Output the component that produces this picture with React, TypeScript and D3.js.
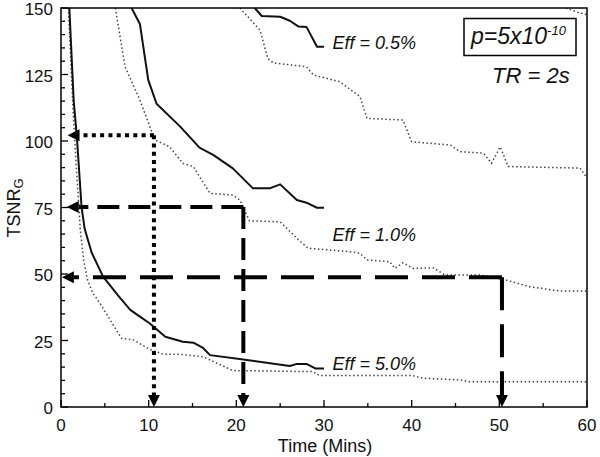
import React from "react";
import * as d3 from "d3";

type P = [number, number];

const solid5: P[] = [[0.95,150],[1.45,115],[1.8,102],[2.35,75],[2.7,67],[3.5,58],[4.8,49],[6.5,42],[7.9,36.5],[9,34],[10.1,31.5],[11.9,26.4],[13.9,24.5],[15.1,24.2],[16.2,22.2],[17,19.5],[20.8,17.9],[26.1,15.4],[26.9,16.2],[28,16.2],[29,14.5],[30,14.5]];
const dotted5: P[] = [[0.85,150],[1.4,110],[1.75,90],[2.05,75],[2.2,66.5],[2.6,55],[3.0,48],[3.6,43],[4.45,39],[5.6,32.7],[6.9,25.8],[8.25,25.2],[10.3,21.4],[11.7,19.8],[13.6,19.8],[16.2,18.9],[19.6,13.7],[28.7,13.3],[29.5,11.8],[40.1,11.8],[41.3,10.8],[45.5,10.2],[46.6,9.5],[60,9.5]];
const solid1: P[] = [[8.05,150],[9.0,144],[9.95,123],[10.9,114],[13.6,105.4],[15.8,97.5],[17.4,94.7],[19.6,89.7],[21.9,82.2],[23.8,82.2],[25,83.7],[26.9,77.8],[28,76.8],[29.2,74.9],[30,74.9]];
const dotted1: P[] = [[6.2,150],[7.3,128],[9.0,115.4],[10.7,100.4],[12.4,97.8],[13.9,91.6],[15.1,90.4],[15.8,86.6],[17,80.3],[19.6,79.7],[20.4,77.8],[21.5,70],[25,69.6],[27.1,62.8],[28.2,59.7],[32.9,58.4],[34.1,57.8],[34.9,55.3],[37.5,54.6],[38.1,52.1],[39,54.2],[40.2,52.1],[42.5,52.3],[43.8,49.6],[47.8,49.6],[50.8,47.7],[53.5,45.2],[56.9,43.6],[60,43.6]];
const solid05: P[] = [[22.1,150],[22.9,147],[25,146.7],[26.1,145.2],[27.1,143],[28,142.9],[29.2,135.4],[30,135.4]];
const dotted05: P[] = [[20.4,150],[22.7,141.7],[23.6,131],[24.2,129.4],[28,127.9],[28.8,124.8],[31.8,122.3],[34.1,116.7],[34.9,108.5],[39,107.9],[40,99.7],[44.4,98.5],[45.5,96],[48.2,95.4],[49.1,91.6],[50.1,97.8],[51,90.4],[59.2,89.8],[60,86.1]];
const dottedTop: P[] = [[57.6,150],[59,148.3],[60,147.5]];

const solidSeries = [solid5, solid1, solid05];
const dottedSeries = [dotted5, dotted1, dotted05, dottedTop];

const effLabels = ["Eff = 0.5%", "Eff = 1.0%", "Eff = 5.0%"];
const effLabelPos: P[] = [[30.5, 137], [30.5, 64.5], [30.5, 16.3]];

// guide arrows: corner (time, tsnr), left tip time
const arrowTime = [10.6, 20.8, 50.3];
const arrowTsnr = [102.2, 75.2, 48.8];
const arrowTip = [0.75, 0.65, 0.1];
const arrowDash = ["4 4.3", "22 9", "33 14"];

const xTicks = [0, 10, 20, 30, 40, 50, 60];
const xMinor = [5, 15, 25, 35, 45, 55];
const yTicks = [0, 25, 50, 75, 100, 125, 150];
const yMinor = d3.range(5, 150, 5).filter((v) => v % 25 !== 0);

const FONT = "'Liberation Sans', Arial, Helvetica, sans-serif";

export default function App() {
  const x = d3.scaleLinear().domain([0, 60]).range([61, 587]);
  const y = d3.scaleLinear().domain([0, 150]).range([407, 8]);
  const line = d3
    .line<P>()
    .x((d) => x(d[0]))
    .y((d) => y(d[1]));
  const head = 12;
  const hw = 6;

  return (
    <svg
      width={600}
      height={457}
      style={{ position: "absolute", left: 0, top: 0, background: "#fff" }}
      fontFamily={FONT}
    >
      <defs>
        <clipPath id="plot">
          <rect x={61} y={8} width={526} height={399} />
        </clipPath>
      </defs>
      <rect x={0} y={0} width={600} height={457} fill="#fff" />

      <g clipPath="url(#plot)" fill="none">
        {dottedSeries.map((s, i) => (
          <path key={"d" + i} d={line(s) || ""} stroke="#444" strokeWidth={1.5} strokeDasharray="1.5 2.5" />
        ))}
        {solidSeries.map((s, i) => (
          <path key={"s" + i} d={line(s) || ""} stroke="#111" strokeWidth={2} strokeLinejoin="round" />
        ))}
      </g>

      {arrowTime.map((t, i) => {
        const cx = x(t);
        const cy = y(arrowTsnr[i]);
        const tipX = x(arrowTip[i]);
        const tipY = y(0);
        return (
          <g key={"a" + i}>
            <path d={`M${cx},${cy}L${tipX + head},${cy}`} stroke="#000" strokeWidth={4} strokeDasharray={arrowDash[i]} fill="none" />
            <path d={`M${cx},${cy}L${cx},${tipY - head}`} stroke="#000" strokeWidth={4} strokeDasharray={arrowDash[i]} fill="none" />
            <path d={`M${tipX},${cy}L${tipX + head},${cy - hw}L${tipX + head},${cy + hw}Z`} fill="#000" />
            <path d={`M${cx},${tipY}L${cx - hw},${tipY - head}L${cx + hw},${tipY - head}Z`} fill="#000" />
          </g>
        );
      })}

      {/* axes frame */}
      <rect x={61} y={8} width={526} height={399} fill="none" stroke="#000" strokeWidth={1.5} />
      {xTicks.map((t) => (
        <line key={"xt" + t} x1={x(t)} x2={x(t)} y1={407} y2={400} stroke="#000" strokeWidth={1.3} />
      ))}
      {xMinor.map((t) => (
        <line key={"xm" + t} x1={x(t)} x2={x(t)} y1={407} y2={403} stroke="#000" strokeWidth={1.3} />
      ))}
      {yTicks.map((t) => (
        <line key={"yt" + t} x1={61} x2={68} y1={y(t)} y2={y(t)} stroke="#000" strokeWidth={1.3} />
      ))}
      {yMinor.map((t) => (
        <line key={"ym" + t} x1={61} x2={65} y1={y(t)} y2={y(t)} stroke="#000" strokeWidth={1.3} />
      ))}

      {xTicks.map((t) => (
        <text key={"xl" + t} x={x(t)} y={431} fontSize={17} textAnchor="middle" fill="#111">
          {t}
        </text>
      ))}
      {yTicks.map((t) => (
        <text key={"yl" + t} x={53} y={y(t) + 7} fontSize={17} textAnchor="end" fill="#111">
          {t}
        </text>
      ))}

      <text x={325} y={452} fontSize={18} textAnchor="middle" fill="#111">
        Time (Mins)
      </text>
      <text transform="translate(20,208) rotate(-90)" textAnchor="middle" fill="#111">
        <tspan fontSize={18}>TSNR</tspan>
        <tspan fontSize={13} dy={2.5}>G</tspan>
      </text>

      {effLabels.map((l, i) => (
        <text key={"e" + i} x={x(effLabelPos[i][0]) + 4} y={y(effLabelPos[i][1]) + 6} fontSize={18} fontStyle="italic" fill="#111">
          {l}
        </text>
      ))}

      <rect x={464} y={18.5} width={112} height={37} fill="#fff" stroke="#000" strokeWidth={1.5} />
      <text x={471} y={44} fontStyle="italic" fill="#111">
        <tspan fontSize={23}>p=5x10</tspan>
        <tspan fontSize={13} dy={-9.5}>-10</tspan>
      </text>
      <text x={492} y={83} fontSize={22} fontStyle="italic" fill="#111">
        TR = 2s
      </text>
    </svg>
  );
}
